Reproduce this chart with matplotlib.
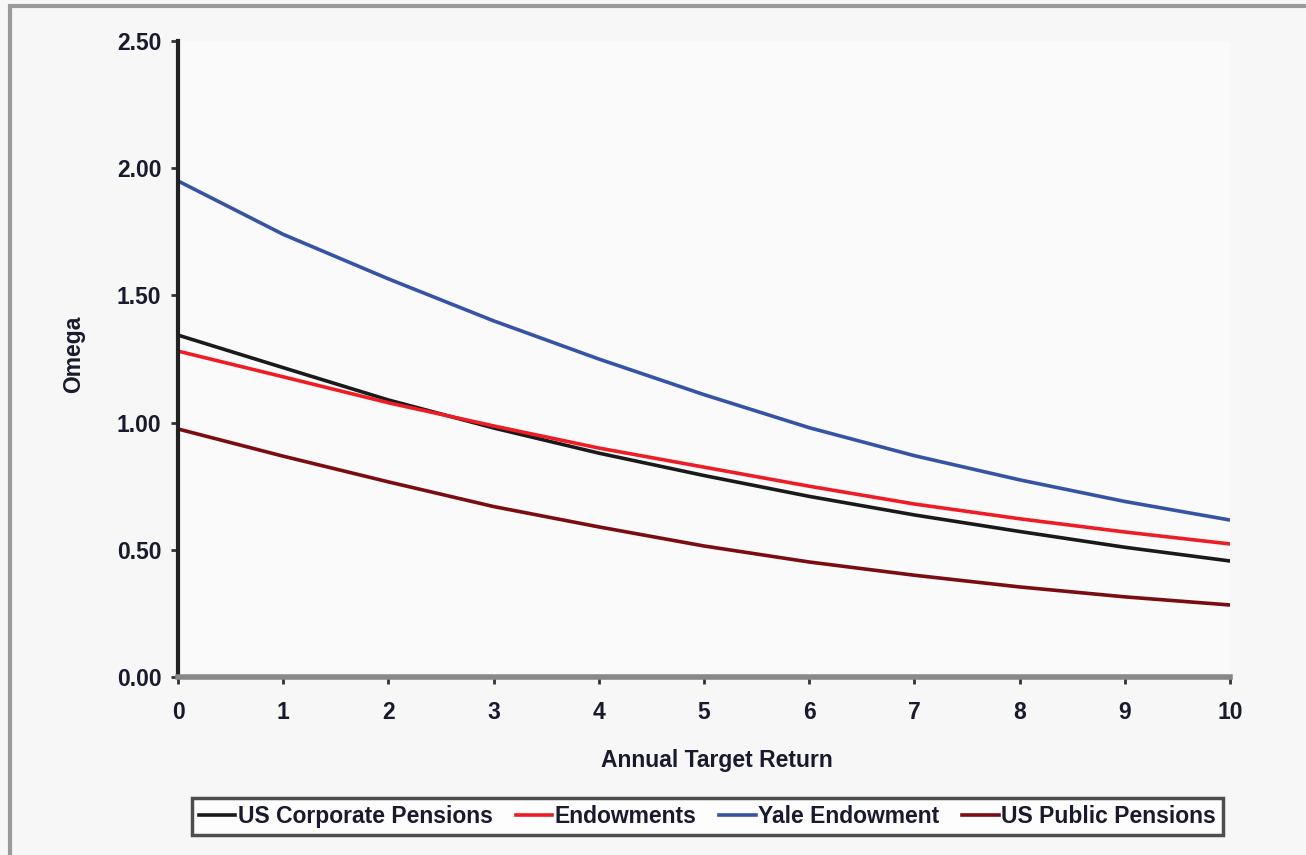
import matplotlib
matplotlib.use("Agg")
import matplotlib.pyplot as plt
import matplotlib.patches as mpatches

plt.rcParams['font.family'] = ['Liberation Sans', 'DejaVu Sans']

# data
target_return = [0, 1, 2, 3, 4, 5, 6, 7, 8, 9, 10]
us_corporate = [1.344, 1.216, 1.089, 0.979, 0.88, 0.792, 0.71, 0.637, 0.572, 0.51, 0.456]
endowments = [1.281, 1.18, 1.078, 0.987, 0.90, 0.825, 0.75, 0.68, 0.622, 0.57, 0.523]
yale = [1.95, 1.74, 1.565, 1.40, 1.25, 1.11, 0.98, 0.87, 0.775, 0.69, 0.617]
us_public = [0.975, 0.868, 0.767, 0.67, 0.59, 0.515, 0.452, 0.40, 0.354, 0.315, 0.283]

y_ticks = [0.0, 0.5, 1.0, 1.5, 2.0, 2.5]
series = [
    ("US Corporate Pensions", us_corporate, "#1a1a1a"),
    ("Endowments", endowments, "#ee1c25"),
    ("Yale Endowment", yale, "#3753a4"),
    ("US Public Pensions", us_public, "#7a0c12"),
]

text_col = "#1a1a2e"

fig = plt.figure(figsize=(13.06, 8.55), dpi=100, facecolor="#f7f7f7")
ax = fig.add_axes([0.1363, 0.2082, 0.8055, 0.7438])
ax.set_facecolor("#fafafa")

for label, vals, color in series:
    ax.plot(target_return, vals, color=color, lw=2.6, label=label)

ax.set_xlim(0, 10)
ax.set_ylim(0, 2.5)
ax.set_xticks(target_return)
ax.set_yticks(y_ticks)
ax.set_yticklabels([f"{v:.2f}" for v in y_ticks])

for s in ["top", "right"]:
    ax.spines[s].set_visible(False)
ax.spines["left"].set_color("#222222")
ax.spines["left"].set_linewidth(3)
ax.spines["bottom"].set_color("#888888")
ax.spines["bottom"].set_linewidth(4)
ax.tick_params(axis="both", direction="out", length=5, width=2, color="#333333",
               labelsize=16.5, labelcolor=text_col)
ax.tick_params(axis="y", pad=7)
ax.tick_params(axis="x", pad=12)
for t in ax.get_xticklabels() + ax.get_yticklabels():
    t.set_fontweight("bold")

fig.text(717 / 1306, 0.111, "Annual Target Return", fontsize=16.5, fontweight="bold",
         color=text_col, ha="center", va="center")
fig.text(74 / 1306, 0.586, "Omega", fontsize=16.5, fontweight="bold", color=text_col,
         rotation=90, ha="center", va="center")

leg = fig.legend(loc="center", bbox_to_anchor=(0.5417, 0.045), ncol=4,
                 frameon=True, fancybox=False, fontsize=16.5, handlelength=1.6,
                 handletextpad=0.1, columnspacing=1.0, borderpad=0.3,
                 borderaxespad=0)
leg.get_frame().set_edgecolor("#222222")
leg.get_frame().set_linewidth(2.5)
leg.get_frame().set_facecolor("white")
for t in leg.get_texts():
    t.set_fontweight("bold")
    t.set_color(text_col)

# outer chart border
fig.patches.append(mpatches.Rectangle((0.008, -0.01), 1.2, 1.0025, transform=fig.transFigure,
                                      fill=False, edgecolor="#9a9a9a", lw=3))

fig.savefig("out.png", dpi=100, facecolor=fig.get_facecolor())
